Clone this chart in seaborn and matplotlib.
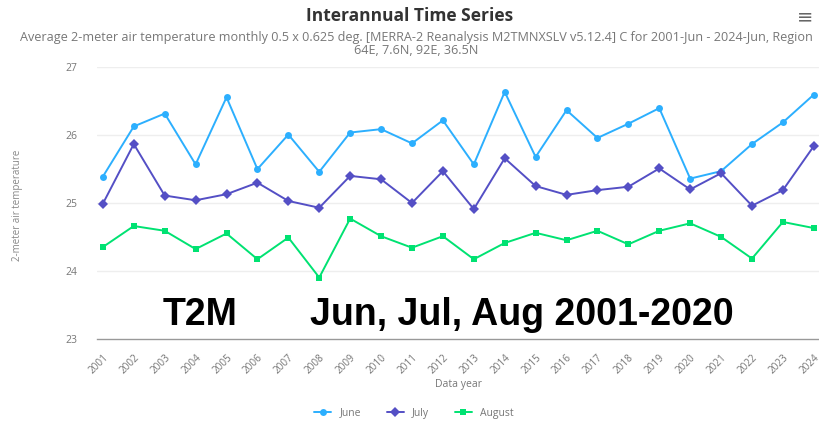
import matplotlib
matplotlib.use("Agg")
import matplotlib.pyplot as plt
import seaborn as sns
import pandas as pd
from matplotlib.lines import Line2D

years = [str(y) for y in range(2001, 2025)]
june = [25.39, 26.13, 26.32, 25.57, 26.56, 25.50, 26.01, 25.46, 26.04, 26.09, 25.88, 26.22,
        25.57, 26.64, 25.68, 26.37, 25.96, 26.17, 26.40, 25.36, 25.47, 25.87, 26.19, 26.60]
july = [24.99, 25.87, 25.11, 25.04, 25.13, 25.30, 25.03, 24.93, 25.40, 25.35, 25.00, 25.47,
        24.91, 25.66, 25.25, 25.12, 25.19, 25.24, 25.51, 25.20, 25.44, 24.96, 25.19, 25.84]
august = [24.35, 24.66, 24.59, 24.32, 24.55, 24.17, 24.49, 23.90, 24.77, 24.51, 24.34, 24.51,
          24.17, 24.41, 24.56, 24.45, 24.59, 24.39, 24.59, 24.70, 24.50, 24.18, 24.72, 24.63]
series_names = ["June", "July", "August"]
colors = ["#2caffe", "#544fc5", "#00e272"]
y_ticks = [23, 24, 25, 26, 27]

rows = []
for name, vals in zip(series_names, [june, july, august]):
    for i, v in enumerate(vals):
        rows.append({"pos": i, "year": years[i], "value": v, "series": name})
df = pd.DataFrame(rows)

sns.set_theme(style="white")
plt.rcParams["font.family"] = ["Open Sans", "DejaVu Sans"]

fig = plt.figure(figsize=(8.2, 4.23), dpi=100)
ax = fig.add_axes([97 / 820, 1 - 338.5 / 423, 1 - 97 / 820, (338.5 - 67.5) / 423])

palette = dict(zip(series_names, colors))
markers = {"June": "o", "July": "D", "August": "s"}
sns.lineplot(data=df, x="pos", y="value", hue="series", style="series",
             palette=palette, markers=markers, dashes=False, linewidth=1.4,
             markersize=5, markeredgewidth=0, ax=ax, legend=False)

ax.set_xlim(-0.19, 23.2)
ax.set_ylim(23, 27)
ax.set_yticks(y_ticks)
ax.set_yticklabels([str(t) for t in y_ticks], fontsize=7.5, color="#777777")
ax.set_xticks(range(len(years)))
ax.set_xticklabels(years, rotation=45, ha="right", rotation_mode="anchor",
                   fontsize=7.2, color="#777777")
ax.tick_params(axis="x", length=6, width=1, color="#999999", direction="out", pad=4)
ax.tick_params(axis="y", length=0, pad=14)
for y in y_ticks[1:]:
    ax.axhline(y, color="#eeeeee", linewidth=1, zorder=0)
for s in ["top", "right", "left"]:
    ax.spines[s].set_visible(False)
ax.spines["bottom"].set_color("#999999")
ax.spines["bottom"].set_linewidth(1)
ax.set_xlabel("Data year", fontsize=7.5, color="#777777", labelpad=2)
ax.set_ylabel("")
fig.text(18 / 820, 1 - 205 / 423, "2-meter air temperature", rotation=90,
         ha="center", va="center", fontsize=7, color="#888888")

fig.text(0.5, 1 - 16 / 423, "Interannual Time Series", ha="center", va="center",
         fontsize=12.5, fontweight="bold", color="#333333")
fig.text(416 / 820, 1 - 31 / 423,
         "Average 2-meter air temperature monthly 0.5 x 0.625 deg. [MERRA-2 Reanalysis M2TMNXSLV v5.12.4] C for 2001-Jun - 2024-Jun, Region\n64E, 7.6N, 92E, 36.5N",
         ha="center", va="top", fontsize=9.1, color="#777777", linespacing=0.95)
fig.text(805 / 820, 1 - 17 / 423, "≡", ha="center", va="center", fontsize=14,
         color="#666666", family="DejaVu Sans")

fig.text(163 / 820, 1 - 325 / 423, "T2M", ha="left", va="baseline",
         fontsize=27, fontweight="bold", color="black", family="Liberation Sans")
fig.text(310 / 820, 1 - 325 / 423, "Jun, Jul, Aug 2001-2020", ha="left", va="baseline",
         fontsize=27, fontweight="bold", color="black", family="Liberation Sans")

handles = [Line2D([0], [0], color=c, marker=markers[n], markersize=5, linewidth=1.4,
                  markeredgewidth=0) for n, c in zip(series_names, colors)]
fig.legend(handles, series_names, loc="center", bbox_to_anchor=(0.505, 1 - 413 / 423),
           ncol=3, frameon=False, fontsize=7.5, handlelength=1.6, columnspacing=2.5,
           labelcolor="#777777")

fig.savefig("out.png", dpi=100)
